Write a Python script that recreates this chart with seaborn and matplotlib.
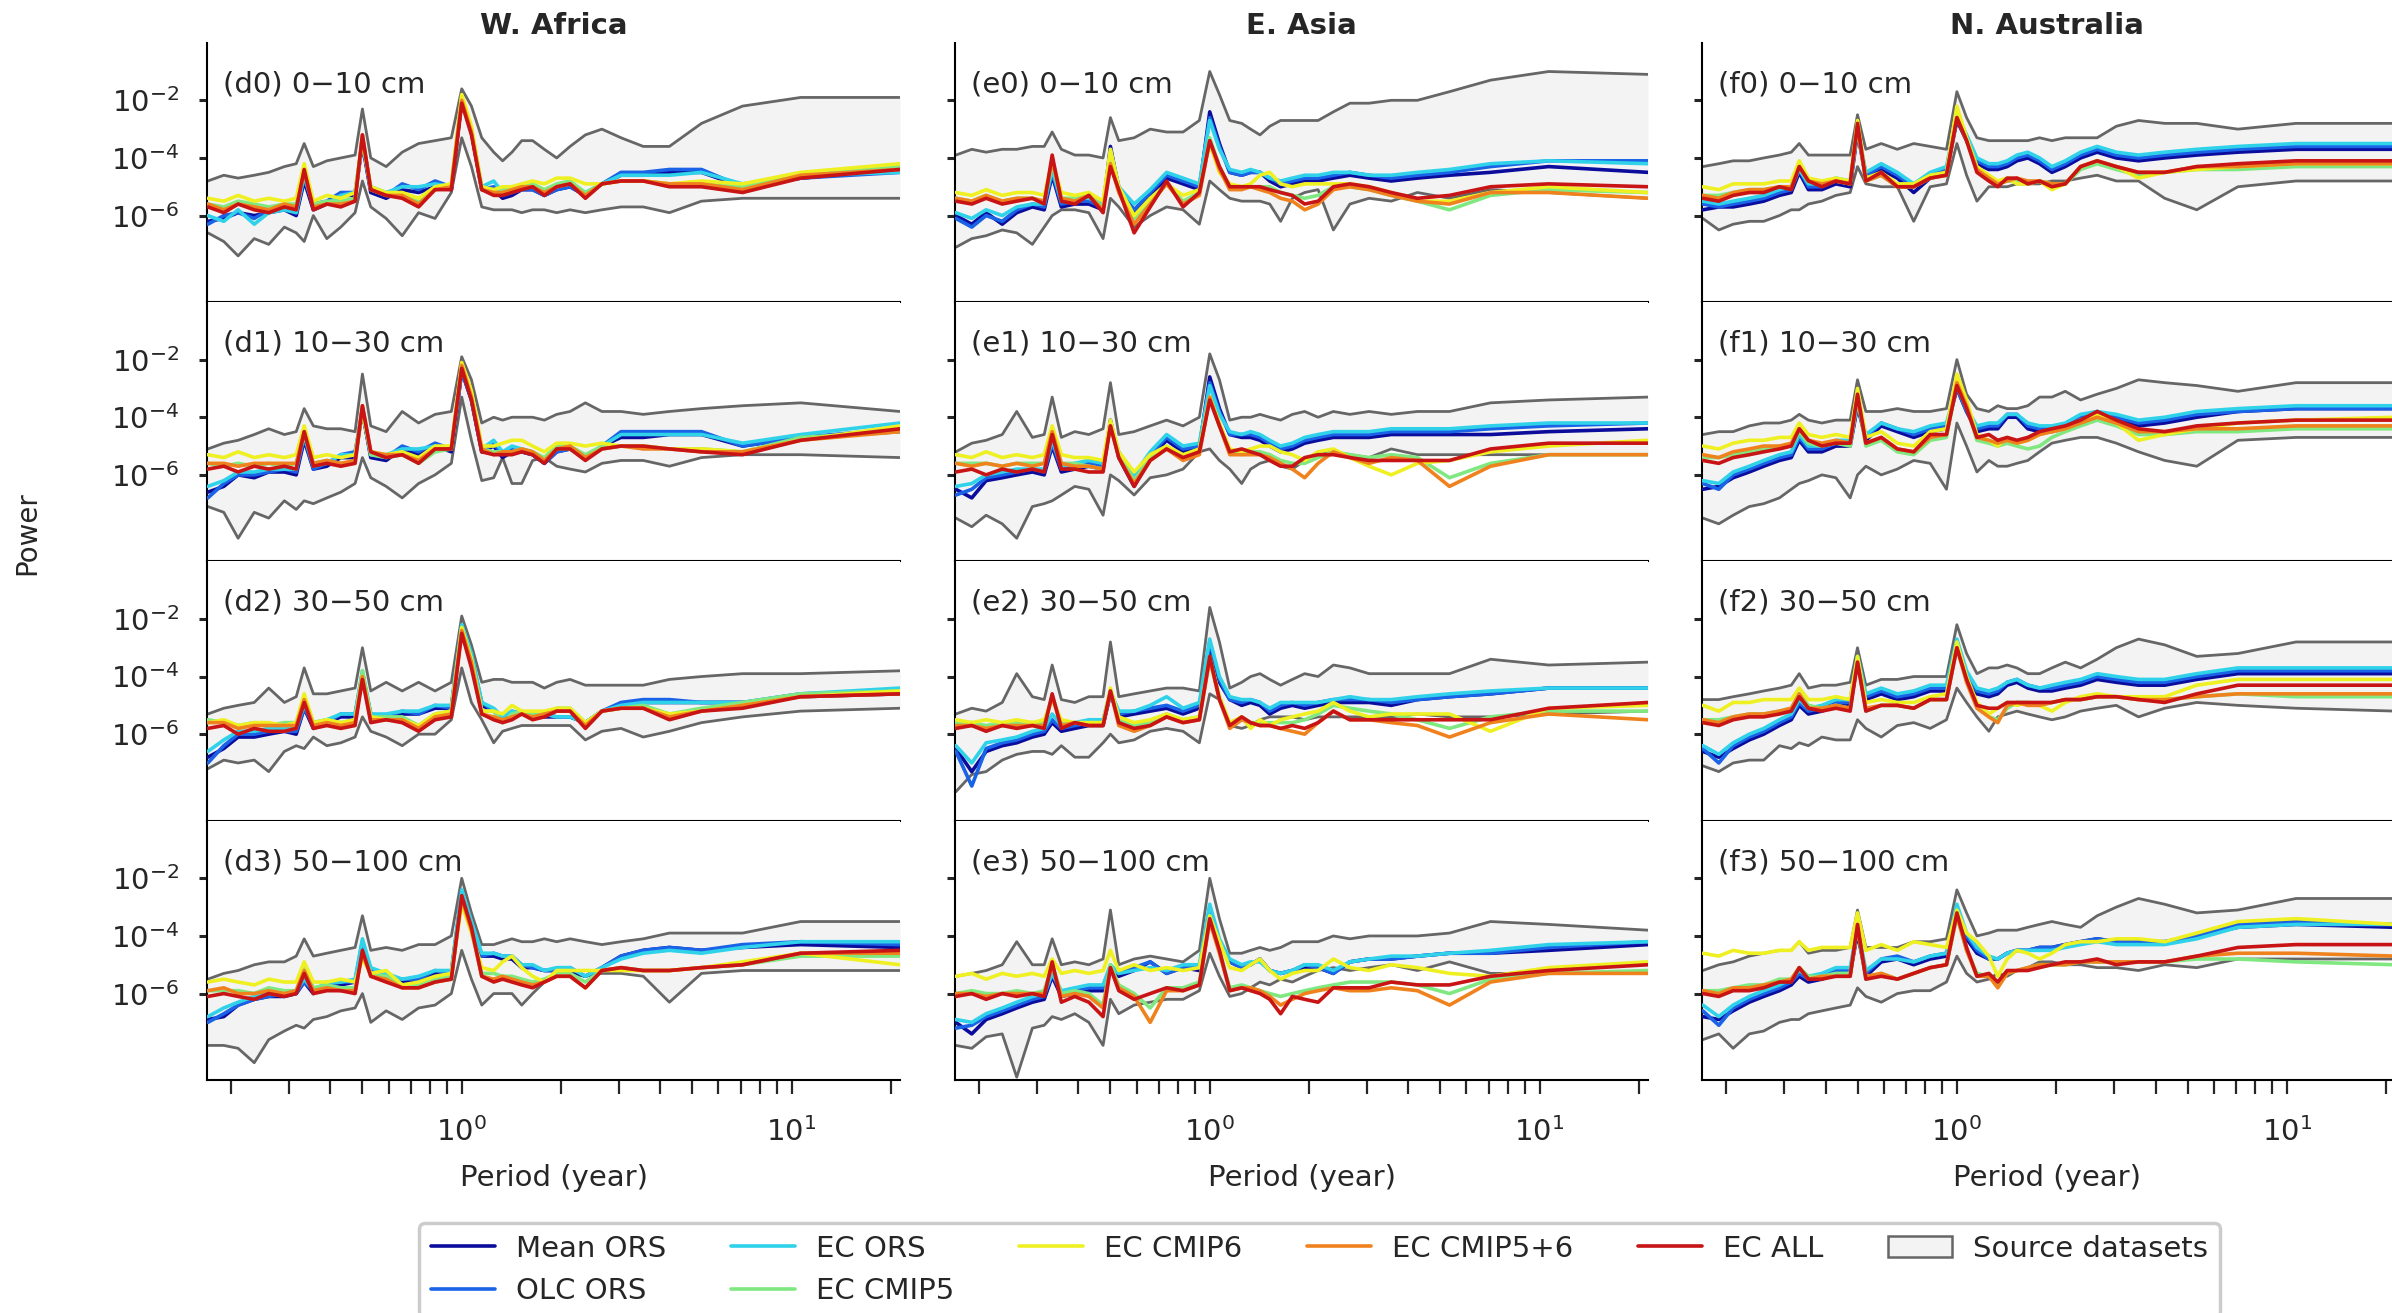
import numpy as np
import pandas as pd
import matplotlib
matplotlib.use("Agg")
import matplotlib.pyplot as plt
import seaborn as sns
from matplotlib.patches import Patch
from matplotlib.lines import Line2D
from matplotlib.ticker import NullLocator, NullFormatter, FixedLocator

# ---------------- data (log10 of power) ----------------
PERIOD = [0.17, 0.19, 0.21, 0.235, 0.26, 0.29, 0.315, 0.333, 0.355, 0.39, 0.43, 0.475, 0.5, 0.53, 0.59, 0.66, 0.74, 0.83, 0.93,
          1.0, 1.07, 1.15, 1.25, 1.33, 1.42, 1.52, 1.64, 1.78, 1.94, 2.13, 2.37, 2.66, 3.04, 3.55, 4.26, 5.33, 7.1, 10.65, 21.3]

SERIES = ["Mean ORS", "OLC ORS", "EC ORS", "EC CMIP5", "EC CMIP6", "EC CMIP5+6", "EC ALL"]
KEYS = ["MEAN", "OLC", "ECORS", "CMIP5", "CMIP6", "CMIP56", "ALL"]
COLORS = ["#0b0c9c", "#1a62e6", "#30d2ea", "#80e880", "#eef022", "#f0821e", "#c81414"]
REGIONS = ["W. Africa", "E. Asia", "N. Australia"]
LETTERS = ["d", "e", "f"]
DEPTHS = ["0\u221210 cm", "10\u221230 cm", "30\u221250 cm", "50\u2212100 cm"]

# ---- W. Africa ----
D0_UP = [-4.8,-4.6,-4.7,-4.6,-4.5,-4.3,-4.2,-3.5,-4.3,-4.1,-4.0,-3.9,-2.3,-4.0,-4.3,-3.8,-3.5,-3.4,-3.3,
         -1.6,-2.2,-3.3,-3.8,-4.1,-3.8,-3.4,-3.4,-3.7,-4.0,-3.6,-3.2,-3.0,-3.3,-3.6,-3.6,-2.8,-2.2,-1.9,-1.9]
D0_LO = [-6.6,-6.9,-7.4,-6.8,-7.0,-6.4,-6.6,-6.9,-6.0,-6.8,-6.4,-5.9,-4.8,-5.7,-6.1,-6.7,-5.9,-6.1,-5.2,
         -3.3,-4.3,-5.7,-5.8,-5.8,-5.8,-5.9,-5.8,-5.8,-5.9,-5.8,-5.9,-5.8,-5.7,-5.7,-5.9,-5.5,-5.4,-5.4,-5.4]
D0_MEAN = [-6.2,-6.1,-5.9,-6.0,-5.9,-5.8,-6.0,-4.8,-5.8,-5.6,-5.3,-5.3,-3.5,-5.2,-5.4,-5.1,-5.2,-5.0,-5.1,
           -2.0,-3.1,-5.1,-5.1,-5.4,-5.3,-5.1,-5.1,-5.3,-5.1,-5.0,-5.3,-4.9,-4.6,-4.6,-4.5,-4.5,-5.0,-4.7,-4.4]
D0_OLC = [-6.3,-6.0,-5.9,-6.1,-5.8,-5.7,-5.9,-4.7,-5.6,-5.5,-5.2,-5.2,-3.5,-5.1,-5.3,-4.9,-5.1,-4.8,-5.0,
          -2.0,-3.1,-5.1,-5.0,-5.3,-5.2,-5.1,-5.1,-5.3,-5.1,-5.0,-5.3,-4.9,-4.5,-4.5,-4.4,-4.4,-5.0,-4.7,-4.5]
D0_ECORS = [-6.0,-6.2,-5.8,-6.3,-5.9,-5.8,-5.9,-4.6,-5.7,-5.6,-5.3,-5.2,-3.4,-5.0,-5.2,-5.0,-5.0,-4.9,-5.0,
            -1.9,-3.0,-5.0,-4.8,-5.2,-5.1,-5.0,-5.0,-5.2,-5.0,-4.9,-5.2,-4.9,-4.6,-4.6,-4.6,-4.5,-4.9,-4.6,-4.5]
D0_CMIP5 = [-5.6,-5.7,-5.5,-5.6,-5.7,-5.6,-5.6,-4.4,-5.6,-5.5,-5.5,-5.4,-3.3,-5.1,-5.3,-5.3,-5.5,-5.1,-5.0,
            -1.9,-3.0,-5.1,-5.2,-5.1,-5.0,-5.0,-4.9,-5.1,-4.9,-4.8,-5.2,-4.9,-4.8,-4.8,-4.9,-4.9,-5.0,-4.6,-4.3]
D0_CMIP6 = [-5.4,-5.5,-5.3,-5.5,-5.4,-5.5,-5.4,-4.2,-5.5,-5.3,-5.4,-5.2,-3.4,-5.0,-5.2,-5.2,-5.4,-5.0,-4.9,
            -1.8,-2.9,-5.0,-5.1,-5.0,-5.0,-4.9,-4.8,-4.9,-4.7,-4.7,-4.9,-4.9,-4.8,-4.8,-4.9,-4.8,-4.9,-4.5,-4.2]
D0_CMIP56 = [-5.6,-5.8,-5.6,-5.7,-5.8,-5.6,-5.7,-4.5,-5.7,-5.6,-5.6,-5.5,-3.2,-5.1,-5.3,-5.3,-5.6,-5.1,-5.0,
             -2.0,-3.1,-5.1,-5.2,-5.2,-5.1,-5.0,-5.0,-5.2,-5.0,-4.9,-5.3,-4.9,-4.8,-4.8,-4.9,-4.9,-5.1,-4.6,-4.4]
D0_ALL = [-5.7,-5.9,-5.6,-5.8,-5.9,-5.7,-5.8,-4.4,-5.8,-5.6,-5.7,-5.5,-3.2,-5.1,-5.3,-5.4,-5.7,-5.1,-5.1,
          -2.1,-3.2,-5.1,-5.3,-5.3,-5.2,-5.1,-5.0,-5.3,-5.0,-4.9,-5.4,-4.9,-4.8,-4.8,-5.0,-5.0,-5.2,-4.7,-4.4]

D1_UP = [-5.1,-4.9,-4.8,-4.6,-4.4,-4.6,-4.5,-3.7,-4.3,-4.4,-4.4,-4.5,-2.5,-4.3,-4.5,-3.8,-4.2,-3.9,-3.8,
         -1.9,-2.7,-4.2,-4.0,-4.1,-4.0,-4.0,-4.0,-4.1,-3.9,-3.8,-3.5,-3.8,-3.8,-3.9,-3.8,-3.7,-3.6,-3.5,-3.8]
D1_LO = [-7.1,-7.3,-8.2,-7.3,-7.5,-6.9,-7.2,-6.9,-7.0,-6.8,-6.6,-6.3,-5.4,-6.1,-6.4,-6.8,-6.3,-6.0,-5.6,
         -3.3,-4.8,-6.2,-6.1,-5.4,-6.3,-6.3,-5.5,-5.4,-5.7,-5.8,-5.9,-5.6,-5.5,-5.5,-5.7,-5.4,-5.3,-5.3,-5.4]
D1_MEAN = [-6.6,-6.4,-6.0,-6.1,-5.9,-5.9,-6.0,-4.8,-5.8,-5.7,-5.4,-5.4,-3.8,-5.4,-5.5,-5.1,-5.3,-5.0,-5.2,
           -2.4,-3.4,-5.2,-5.0,-5.4,-5.2,-5.2,-5.3,-5.6,-5.2,-5.1,-5.4,-5.0,-4.7,-4.7,-4.6,-4.6,-5.0,-4.7,-4.5]
D1_OLC = [-6.8,-6.3,-6.0,-6.0,-5.9,-5.8,-5.9,-4.7,-5.8,-5.6,-5.3,-5.2,-3.8,-5.3,-5.4,-5.0,-5.2,-4.9,-5.1,
          -2.4,-3.4,-5.2,-4.9,-5.3,-5.1,-5.2,-5.3,-5.6,-5.2,-5.1,-5.4,-5.0,-4.5,-4.5,-4.5,-4.5,-5.0,-4.7,-4.4]
D1_ECORS = [-6.4,-6.2,-5.9,-5.9,-5.8,-5.8,-5.8,-4.6,-5.7,-5.6,-5.3,-5.3,-3.7,-5.3,-5.3,-5.1,-5.1,-5.0,-5.1,
            -2.3,-3.3,-5.1,-4.8,-5.2,-5.0,-5.1,-5.2,-5.5,-5.1,-5.1,-5.4,-5.0,-4.6,-4.6,-4.6,-4.6,-4.9,-4.6,-4.2]
D1_CMIP5 = [-5.6,-5.7,-5.6,-5.7,-5.6,-5.7,-5.6,-4.6,-5.6,-5.5,-5.6,-5.6,-3.7,-5.3,-5.4,-5.3,-5.6,-5.2,-5.1,
            -2.2,-3.3,-5.1,-5.2,-5.2,-5.2,-5.1,-5.2,-5.4,-5.0,-5.0,-5.3,-5.0,-5.0,-5.0,-5.1,-5.1,-5.2,-4.7,-4.5]
D1_CMIP6 = [-5.3,-5.4,-5.2,-5.4,-5.3,-5.4,-5.3,-4.3,-5.4,-5.3,-5.4,-5.3,-3.8,-5.2,-5.3,-5.2,-5.4,-5.0,-5.0,
            -2.1,-3.1,-5.0,-5.0,-4.9,-4.8,-4.8,-5.0,-5.2,-4.9,-4.9,-5.0,-4.9,-5.0,-5.0,-5.1,-5.1,-5.2,-4.8,-4.3]
D1_CMIP56 = [-5.6,-5.6,-5.7,-5.6,-5.6,-5.6,-5.6,-4.5,-5.6,-5.5,-5.6,-5.5,-3.6,-5.2,-5.3,-5.3,-5.5,-5.1,-5.1,
             -2.2,-3.3,-5.1,-5.3,-5.2,-5.2,-5.1,-5.2,-5.5,-5.1,-5.0,-5.4,-5.1,-5.0,-5.1,-5.1,-5.2,-5.2,-4.8,-4.5]
D1_ALL = [-5.8,-5.7,-5.9,-5.7,-5.8,-5.7,-5.8,-4.5,-5.7,-5.6,-5.7,-5.6,-3.6,-5.2,-5.4,-5.3,-5.6,-5.1,-5.1,
          -2.3,-3.4,-5.2,-5.3,-5.3,-5.3,-5.2,-5.3,-5.6,-5.1,-5.1,-5.5,-5.1,-5.0,-5.0,-5.1,-5.2,-5.3,-4.8,-4.4]

D2_UP = [-5.3,-5.1,-5.0,-4.9,-4.4,-4.9,-4.7,-3.7,-4.6,-4.6,-4.5,-4.4,-3.0,-4.5,-4.2,-4.5,-4.2,-4.5,-4.2,
         -1.9,-2.9,-4.2,-4.1,-4.1,-4.2,-4.2,-4.2,-4.4,-4.2,-4.1,-4.3,-4.3,-4.3,-4.3,-4.1,-4.0,-3.9,-3.9,-3.8]
D2_LO = [-7.2,-6.9,-7.0,-6.9,-7.3,-6.6,-6.4,-6.5,-6.1,-6.4,-6.3,-6.1,-5.4,-5.9,-6.1,-6.4,-6.0,-6.0,-5.5,
         -3.7,-4.9,-5.5,-6.3,-5.9,-5.8,-5.7,-5.7,-5.7,-5.7,-5.7,-6.2,-5.9,-5.8,-6.1,-5.9,-5.6,-5.4,-5.2,-5.1]
D2_MEAN = [-6.8,-6.5,-6.1,-6.1,-6.0,-5.9,-6.0,-5.1,-5.8,-5.6,-5.4,-5.4,-3.9,-5.4,-5.4,-5.3,-5.3,-5.1,-5.1,
           -2.3,-3.3,-5.0,-5.2,-5.5,-5.3,-5.3,-5.4,-5.4,-5.4,-5.4,-5.6,-5.2,-5.0,-4.9,-4.9,-4.9,-4.9,-4.7,-4.6]
D2_OLC = [-7.0,-6.4,-6.0,-6.0,-5.9,-5.9,-5.9,-5.1,-5.7,-5.6,-5.3,-5.3,-3.9,-5.3,-5.4,-5.2,-5.3,-5.0,-5.1,
          -2.3,-3.3,-4.9,-5.2,-5.5,-5.2,-5.3,-5.3,-5.3,-5.4,-5.4,-5.6,-5.2,-4.9,-4.8,-4.8,-4.9,-4.9,-4.6,-4.5]
D2_ECORS = [-6.6,-6.2,-5.9,-5.9,-5.8,-5.8,-5.8,-5.0,-5.6,-5.5,-5.3,-5.3,-3.8,-5.3,-5.3,-5.2,-5.2,-5.0,-5.0,
            -2.2,-3.2,-4.9,-5.1,-5.4,-5.2,-5.3,-5.3,-5.3,-5.4,-5.4,-5.6,-5.2,-5.0,-4.9,-4.9,-4.9,-4.9,-4.6,-4.4]
D2_CMIP5 = [-5.5,-5.6,-5.7,-5.6,-5.7,-5.6,-5.6,-4.7,-5.6,-5.5,-5.6,-5.5,-3.8,-5.4,-5.4,-5.4,-5.7,-5.3,-5.2,
            -2.3,-3.4,-5.2,-5.2,-5.6,-5.3,-5.2,-5.3,-5.3,-5.1,-5.1,-5.6,-5.2,-5.1,-5.0,-5.3,-5.1,-4.9,-4.6,-4.5]
D2_CMIP6 = [-5.6,-5.5,-5.7,-5.6,-5.6,-5.7,-5.6,-4.6,-5.6,-5.5,-5.6,-5.5,-4.0,-5.4,-5.5,-5.5,-5.7,-5.3,-5.2,
            -2.3,-3.4,-5.2,-5.2,-5.3,-5.0,-5.2,-5.2,-5.2,-5.1,-5.1,-5.6,-5.2,-5.1,-5.1,-5.3,-5.2,-5.0,-4.7,-4.5]
D2_CMIP56 = [-5.6,-5.6,-5.8,-5.7,-5.7,-5.7,-5.7,-4.8,-5.7,-5.6,-5.7,-5.6,-4.0,-5.5,-5.5,-5.5,-5.8,-5.4,-5.3,
             -2.4,-3.5,-5.3,-5.4,-5.5,-5.4,-5.3,-5.4,-5.3,-5.2,-5.2,-5.7,-5.2,-5.1,-5.1,-5.4,-5.2,-5.0,-4.7,-4.6]
D2_ALL = [-5.8,-5.7,-6.0,-5.8,-5.9,-5.9,-5.8,-4.9,-5.8,-5.7,-5.8,-5.7,-4.1,-5.6,-5.5,-5.6,-5.9,-5.5,-5.4,
          -2.5,-3.7,-5.3,-5.5,-5.6,-5.5,-5.3,-5.5,-5.4,-5.2,-5.2,-5.8,-5.2,-5.1,-5.1,-5.5,-5.2,-5.1,-4.7,-4.6]

D3_UP = [-5.5,-5.3,-5.2,-5.0,-4.9,-4.9,-4.7,-4.1,-4.7,-4.6,-4.5,-4.4,-3.3,-4.5,-4.4,-4.5,-4.3,-4.3,-4.0,
         -2.0,-3.2,-4.3,-4.3,-4.2,-4.1,-4.2,-4.2,-4.1,-4.2,-4.1,-4.2,-4.3,-4.2,-4.1,-3.9,-3.9,-3.9,-3.5,-3.5]
D3_LO = [-7.8,-7.8,-7.9,-8.4,-7.6,-7.3,-7.1,-7.2,-6.9,-6.8,-6.6,-6.5,-6.0,-7.0,-6.6,-6.9,-6.5,-6.4,-6.0,
         -4.5,-5.5,-6.4,-6.0,-6.0,-6.0,-6.4,-6.0,-5.6,-5.4,-5.3,-5.4,-5.3,-5.3,-5.4,-6.3,-5.3,-5.2,-5.2,-5.2]
D3_MEAN = [-6.9,-6.8,-6.4,-6.2,-6.1,-6.1,-6.0,-5.6,-6.0,-5.7,-5.7,-5.6,-4.2,-5.2,-5.4,-5.6,-5.5,-5.3,-5.3,
           -2.5,-3.6,-4.7,-4.7,-4.8,-4.8,-5.1,-5.1,-5.2,-5.2,-5.2,-5.4,-5.1,-4.7,-4.5,-4.4,-4.5,-4.4,-4.3,-4.4]
D3_OLC = [-7.0,-6.7,-6.4,-6.2,-6.1,-6.0,-6.0,-5.6,-5.9,-5.7,-5.6,-5.6,-4.2,-5.2,-5.4,-5.5,-5.5,-5.2,-5.3,
          -2.5,-3.6,-4.7,-4.6,-4.7,-4.7,-5.0,-5.1,-5.2,-5.2,-5.1,-5.4,-5.1,-4.7,-4.5,-4.4,-4.5,-4.3,-4.2,-4.3]
D3_ECORS = [-6.8,-6.5,-6.3,-6.1,-6.0,-6.0,-5.9,-5.5,-5.9,-5.6,-5.6,-5.5,-4.1,-5.1,-5.3,-5.5,-5.4,-5.2,-5.2,
            -2.4,-3.5,-4.6,-4.6,-4.7,-4.7,-5.0,-5.0,-5.2,-5.1,-5.1,-5.4,-5.1,-4.8,-4.6,-4.5,-4.6,-4.4,-4.2,-4.2]
D3_CMIP5 = [-5.9,-5.9,-5.9,-6.0,-5.8,-5.9,-5.9,-5.1,-5.8,-5.7,-5.8,-5.8,-4.6,-5.3,-5.4,-5.7,-5.7,-5.5,-5.4,
            -2.7,-3.8,-5.3,-5.3,-5.4,-5.4,-5.5,-5.6,-5.5,-5.3,-5.3,-5.6,-5.2,-5.1,-5.2,-5.2,-5.1,-5.0,-4.7,-4.7]
D3_CMIP6 = [-5.6,-5.5,-5.6,-5.7,-5.5,-5.6,-5.6,-4.9,-5.6,-5.6,-5.5,-5.6,-4.8,-5.3,-5.2,-5.7,-5.6,-5.4,-5.3,
            -2.9,-3.9,-5.1,-5.2,-4.9,-4.7,-5.1,-5.4,-5.6,-5.2,-5.2,-5.2,-5.2,-5.2,-5.2,-5.2,-5.1,-4.9,-4.6,-5.0]
D3_CMIP56 = [-5.9,-5.8,-6.0,-6.0,-5.9,-6.0,-5.9,-5.2,-5.9,-5.8,-5.9,-5.9,-4.6,-5.4,-5.5,-5.8,-5.8,-5.6,-5.5,
             -2.7,-3.8,-5.4,-5.5,-5.4,-5.5,-5.6,-5.7,-5.6,-5.4,-5.4,-5.8,-5.2,-5.1,-5.2,-5.2,-5.1,-5.0,-4.6,-4.6]
D3_ALL = [-6.1,-6.0,-6.1,-6.2,-6.0,-6.1,-6.0,-5.3,-6.0,-5.9,-5.9,-6.0,-4.5,-5.4,-5.6,-5.8,-5.8,-5.6,-5.5,
          -2.6,-3.7,-5.4,-5.6,-5.5,-5.6,-5.7,-5.8,-5.6,-5.4,-5.4,-5.8,-5.2,-5.1,-5.2,-5.2,-5.1,-5.0,-4.6,-4.5]

# ---- E. Asia ----
E0_UP = [-3.9,-3.7,-3.8,-3.7,-3.7,-3.6,-3.6,-3.1,-3.7,-3.9,-3.9,-4.0,-2.6,-3.4,-3.3,-3.0,-3.1,-3.1,-2.7,
         -1.0,-1.8,-2.7,-2.8,-3.0,-3.2,-2.9,-2.7,-2.7,-2.7,-2.7,-2.4,-2.1,-2.1,-2.0,-2.0,-1.7,-1.3,-1.0,-1.1]
E0_LO = [-7.1,-6.8,-6.7,-6.5,-6.6,-7.0,-6.4,-6.0,-5.8,-5.8,-5.9,-6.8,-5.4,-5.7,-6.4,-6.0,-5.7,-5.8,-6.3,
         -4.8,-5.1,-5.4,-5.5,-5.5,-5.5,-5.6,-6.2,-5.4,-5.2,-5.1,-6.5,-5.6,-5.4,-5.5,-5.2,-5.4,-5.1,-5.2,-5.4]
E0_MEAN = [-6.0,-6.3,-5.9,-6.3,-5.9,-5.7,-5.8,-4.6,-5.7,-5.6,-5.6,-5.8,-3.6,-5.1,-5.9,-5.3,-4.7,-4.9,-5.1,
           -2.4,-3.5,-4.5,-4.6,-4.5,-4.5,-4.8,-5.0,-4.9,-4.8,-4.8,-4.7,-4.6,-4.7,-4.8,-4.7,-4.6,-4.5,-4.3,-4.5]
E0_OLC = [-6.1,-6.4,-6.0,-6.2,-5.8,-5.6,-5.7,-4.5,-5.6,-5.5,-5.5,-5.7,-3.7,-5.0,-5.8,-5.2,-4.6,-4.8,-5.0,
          -2.6,-3.6,-4.5,-4.6,-4.5,-4.5,-4.7,-4.9,-4.8,-4.7,-4.7,-4.6,-4.5,-4.6,-4.7,-4.6,-4.5,-4.3,-4.1,-4.1]
E0_ECORS = [-5.9,-6.1,-5.8,-6.0,-5.7,-5.6,-5.6,-4.4,-5.5,-5.4,-5.4,-5.6,-3.8,-5.0,-5.6,-5.1,-4.5,-4.7,-4.9,
            -2.7,-3.7,-4.4,-4.5,-4.4,-4.5,-4.7,-4.8,-4.7,-4.6,-4.6,-4.5,-4.5,-4.6,-4.6,-4.5,-4.4,-4.2,-4.1,-4.2]
E0_CMIP5 = [-5.4,-5.5,-5.3,-5.5,-5.4,-5.4,-5.5,-4.2,-5.4,-5.4,-5.3,-5.7,-4.1,-5.1,-6.1,-5.5,-4.9,-5.5,-5.2,
            -3.3,-4.3,-5.0,-5.0,-5.0,-5.0,-5.0,-5.2,-5.3,-5.4,-5.3,-5.0,-5.0,-5.1,-5.3,-5.5,-5.8,-5.3,-5.1,-5.2]
E0_CMIP6 = [-5.2,-5.3,-5.1,-5.3,-5.2,-5.2,-5.3,-4.1,-5.2,-5.3,-5.2,-5.5,-3.7,-5.0,-6.0,-5.4,-4.9,-5.3,-5.1,
            -3.5,-4.5,-4.9,-5.0,-4.9,-4.6,-4.5,-4.9,-5.0,-4.9,-4.9,-4.9,-4.9,-5.0,-5.2,-5.5,-5.5,-5.2,-5.0,-5.2]
E0_CMIP56 = [-5.4,-5.5,-5.3,-5.5,-5.4,-5.4,-5.5,-4.1,-5.4,-5.5,-5.3,-5.8,-4.2,-5.2,-6.3,-5.6,-4.9,-5.6,-5.3,
             -3.4,-4.4,-5.1,-5.1,-5.0,-5.1,-5.2,-5.4,-5.5,-5.8,-5.6,-5.1,-5.0,-5.1,-5.3,-5.5,-5.6,-5.2,-5.2,-5.4]
E0_ALL = [-5.5,-5.6,-5.4,-5.6,-5.5,-5.4,-5.6,-3.9,-5.5,-5.6,-5.3,-5.9,-4.3,-5.1,-6.6,-5.7,-4.8,-5.7,-5.2,
          -3.4,-4.3,-5.0,-5.0,-5.0,-5.0,-5.1,-5.2,-5.3,-5.6,-5.5,-5.0,-4.9,-5.0,-5.2,-5.4,-5.3,-5.0,-4.9,-5.0]

E1_UP = [-5.2,-4.9,-4.8,-4.6,-3.8,-4.7,-4.6,-3.3,-4.7,-4.5,-4.6,-4.4,-2.8,-4.6,-4.5,-4.3,-4.1,-4.3,-4.0,
         -1.8,-2.7,-4.1,-4.0,-4.0,-3.9,-4.0,-4.1,-3.9,-3.8,-4.0,-3.8,-3.9,-3.8,-3.9,-3.8,-3.8,-3.5,-3.4,-3.3]
E1_LO = [-7.5,-7.8,-7.4,-7.7,-8.2,-7.1,-7.0,-6.9,-6.7,-6.4,-6.5,-7.4,-6.0,-6.2,-6.7,-6.1,-6.0,-5.8,-5.2,
         -5.1,-5.5,-5.8,-6.3,-5.8,-5.6,-5.5,-5.7,-5.8,-5.5,-5.2,-5.2,-5.3,-5.4,-5.1,-5.3,-5.3,-5.3,-5.3,-5.3]
E1_MEAN = [-6.5,-6.8,-6.2,-6.1,-6.0,-5.9,-6.0,-5.0,-5.9,-5.8,-5.7,-5.8,-4.1,-5.4,-6.4,-5.4,-4.8,-5.2,-5.1,
           -2.6,-3.7,-4.6,-4.7,-4.7,-4.8,-5.0,-5.2,-5.1,-4.9,-4.8,-4.7,-4.7,-4.7,-4.6,-4.6,-4.6,-4.6,-4.5,-4.4]
E1_OLC = [-6.7,-6.5,-6.1,-6.0,-5.9,-5.8,-5.9,-4.9,-5.8,-5.7,-5.6,-5.7,-4.2,-5.3,-6.2,-5.3,-4.7,-5.1,-5.0,
          -2.8,-3.8,-4.6,-4.6,-4.6,-4.7,-4.9,-5.1,-5.0,-4.8,-4.7,-4.6,-4.6,-4.6,-4.5,-4.5,-4.5,-4.4,-4.3,-4.2]
E1_ECORS = [-6.4,-6.3,-6.0,-5.9,-5.8,-5.8,-5.8,-4.8,-5.7,-5.6,-5.5,-5.6,-4.2,-5.2,-6.0,-5.2,-4.6,-5.0,-4.9,
            -2.9,-3.9,-4.5,-4.6,-4.5,-4.6,-4.8,-5.0,-4.9,-4.7,-4.6,-4.5,-4.5,-4.5,-4.4,-4.4,-4.4,-4.3,-4.2,-4.2]
E1_CMIP5 = [-5.6,-5.6,-5.6,-5.7,-5.6,-5.6,-5.6,-4.5,-5.6,-5.6,-5.7,-5.8,-4.2,-5.3,-6.2,-5.4,-5.0,-5.4,-5.2,
            -3.3,-4.3,-5.2,-5.3,-5.2,-5.2,-5.3,-5.5,-5.6,-5.6,-5.4,-5.2,-5.3,-5.4,-5.3,-5.4,-6.1,-5.6,-5.3,-5.3]
E1_CMIP6 = [-5.3,-5.4,-5.2,-5.4,-5.3,-5.4,-5.3,-4.3,-5.3,-5.4,-5.4,-5.5,-4.1,-5.2,-5.9,-5.3,-5.0,-5.3,-5.1,
            -3.3,-4.2,-5.1,-5.2,-5.1,-5.0,-5.0,-5.2,-5.3,-5.5,-5.2,-5.1,-5.4,-5.7,-6.0,-5.6,-5.5,-5.2,-5.0,-4.8]
E1_CMIP56 = [-5.6,-5.7,-5.6,-5.7,-5.6,-5.7,-5.6,-4.5,-5.6,-5.7,-5.7,-5.8,-4.3,-5.4,-6.3,-5.5,-5.1,-5.5,-5.3,
             -3.3,-4.3,-5.3,-5.3,-5.3,-5.3,-5.4,-5.6,-5.8,-6.1,-5.6,-5.2,-5.4,-5.6,-5.4,-5.5,-6.4,-5.7,-5.3,-5.3]
E1_ALL = [-5.9,-5.8,-6.0,-5.8,-5.9,-5.8,-5.9,-4.6,-5.8,-5.8,-5.9,-5.9,-4.3,-5.4,-6.4,-5.5,-5.1,-5.4,-5.2,
          -3.4,-4.3,-5.2,-5.1,-5.2,-5.3,-5.5,-5.7,-5.7,-5.4,-5.3,-5.3,-5.4,-5.5,-5.5,-5.5,-5.5,-5.1,-4.9,-4.9]

E2_UP = [-5.3,-5.1,-5.2,-4.9,-3.9,-4.7,-4.8,-3.6,-4.8,-4.9,-4.7,-4.7,-2.8,-4.7,-4.6,-4.5,-4.4,-4.4,-4.5,
         -1.6,-2.8,-4.4,-4.2,-4.0,-3.9,-4.1,-4.3,-4.1,-3.9,-4.0,-3.6,-3.7,-3.9,-3.9,-3.9,-3.9,-3.4,-3.6,-3.5]
E2_LO = [-8.0,-7.4,-7.3,-6.9,-6.7,-6.6,-6.6,-6.7,-6.4,-6.8,-6.8,-6.3,-6.0,-6.3,-6.2,-5.9,-5.8,-5.9,-6.3,
         -4.6,-4.8,-5.7,-5.8,-5.7,-5.5,-5.4,-5.4,-5.4,-5.5,-5.4,-5.4,-5.4,-5.4,-5.4,-5.3,-5.4,-5.4,-5.3,-5.2]
E2_MEAN = [-6.5,-7.3,-6.6,-6.4,-6.3,-6.1,-6.0,-5.6,-5.9,-5.8,-5.7,-5.7,-4.6,-5.4,-5.3,-5.2,-5.1,-5.3,-5.1,
           -3.0,-4.2,-4.8,-5.0,-4.9,-5.0,-5.3,-5.1,-5.0,-5.1,-5.0,-4.9,-4.9,-4.9,-5.0,-4.8,-4.7,-4.6,-4.4,-4.4]
E2_OLC = [-6.6,-7.8,-6.5,-6.3,-6.2,-6.0,-5.9,-5.5,-5.8,-5.7,-5.6,-5.6,-4.6,-5.3,-5.2,-5.1,-5.0,-5.2,-5.0,
          -2.8,-4.1,-4.8,-4.9,-4.8,-4.9,-5.2,-5.0,-4.9,-5.0,-4.9,-4.8,-4.8,-4.8,-4.9,-4.8,-4.7,-4.6,-4.4,-4.4]
E2_ECORS = [-6.4,-7.0,-6.3,-6.2,-6.1,-5.9,-5.8,-5.3,-5.7,-5.6,-5.5,-5.5,-4.5,-5.2,-5.2,-5.0,-4.7,-5.1,-4.9,
            -2.7,-4.0,-4.7,-4.8,-4.8,-4.9,-5.1,-4.9,-4.9,-4.9,-4.9,-4.8,-4.7,-4.8,-4.8,-4.7,-4.6,-4.5,-4.4,-4.4]
E2_CMIP5 = [-5.6,-5.6,-5.7,-5.6,-5.6,-5.6,-5.6,-4.7,-5.6,-5.6,-5.6,-5.6,-4.5,-5.5,-5.7,-5.6,-5.3,-5.5,-5.4,
            -3.3,-4.7,-5.7,-5.4,-5.6,-5.6,-5.6,-5.6,-5.6,-5.5,-5.3,-5.0,-5.1,-5.2,-5.3,-5.5,-5.8,-5.4,-5.2,-5.2]
E2_CMIP6 = [-5.5,-5.6,-5.5,-5.6,-5.5,-5.6,-5.5,-4.8,-5.5,-5.6,-5.6,-5.6,-4.4,-5.4,-5.6,-5.5,-5.3,-5.5,-5.4,
            -3.4,-4.7,-5.6,-5.4,-5.8,-5.5,-5.7,-5.5,-5.4,-5.3,-5.2,-4.9,-5.2,-5.4,-5.3,-5.3,-5.3,-5.9,-5.1,-5.0]
E2_CMIP56 = [-5.7,-5.7,-5.8,-5.7,-5.7,-5.7,-5.7,-4.7,-5.7,-5.6,-5.7,-5.7,-4.5,-5.7,-5.9,-5.7,-5.4,-5.6,-5.5,
             -3.4,-4.8,-5.8,-5.5,-5.6,-5.7,-5.7,-5.8,-5.9,-6.0,-5.6,-5.2,-5.5,-5.5,-5.6,-5.7,-6.1,-5.6,-5.3,-5.5]
E2_ALL = [-5.8,-5.7,-5.9,-5.7,-5.8,-5.7,-5.8,-4.6,-5.8,-5.6,-5.7,-5.7,-4.5,-5.6,-5.8,-5.7,-5.4,-5.6,-5.5,
          -3.3,-4.8,-5.7,-5.4,-5.6,-5.7,-5.7,-5.8,-5.7,-5.8,-5.6,-5.2,-5.5,-5.5,-5.5,-5.5,-5.5,-5.5,-5.1,-4.9]

E3_UP = [-5.4,-5.3,-5.2,-5.0,-4.2,-5.0,-5.0,-4.1,-5.0,-4.9,-5.0,-4.8,-3.1,-5.0,-4.8,-4.7,-4.8,-4.9,-4.5,
         -2.0,-3.4,-4.6,-4.6,-4.5,-4.4,-4.5,-4.4,-4.2,-4.2,-4.2,-4.0,-4.1,-4.0,-4.0,-4.0,-3.9,-3.5,-3.6,-3.8]
E3_LO = [-7.8,-7.9,-7.5,-7.4,-8.9,-7.2,-7.1,-6.8,-6.9,-6.7,-7.0,-7.8,-6.2,-6.7,-6.4,-6.3,-6.2,-6.2,-5.9,
         -4.6,-5.4,-6.1,-6.0,-5.8,-5.6,-5.7,-5.5,-5.6,-5.4,-5.2,-5.1,-5.2,-5.1,-5.0,-5.2,-4.9,-5.3,-5.3,-5.3]
E3_MEAN = [-7.0,-7.4,-6.9,-6.7,-6.5,-6.3,-6.2,-5.4,-6.1,-6.0,-5.9,-5.9,-5.1,-5.4,-5.2,-4.9,-5.3,-5.1,-5.2,
           -3.1,-4.2,-4.9,-5.1,-5.0,-4.8,-5.2,-5.3,-5.2,-5.1,-5.1,-5.3,-4.9,-4.8,-4.8,-4.7,-4.6,-4.6,-4.5,-4.3]
E3_OLC = [-7.2,-7.1,-6.8,-6.6,-6.4,-6.2,-6.1,-5.3,-6.0,-5.9,-5.8,-5.8,-5.1,-5.3,-5.1,-4.9,-5.3,-5.1,-5.1,
          -3.0,-4.2,-4.9,-5.1,-5.0,-4.8,-5.2,-5.3,-5.2,-5.0,-5.1,-5.3,-4.9,-4.8,-4.8,-4.7,-4.6,-4.6,-4.4,-4.2]
E3_ECORS = [-6.9,-7.0,-6.7,-6.5,-6.3,-6.1,-6.0,-5.3,-5.9,-5.8,-5.7,-5.7,-5.0,-5.3,-5.2,-5.1,-5.2,-5.0,-5.0,
            -2.9,-4.1,-4.8,-5.0,-4.9,-4.9,-5.2,-5.3,-5.2,-5.0,-5.0,-5.2,-4.9,-4.8,-4.7,-4.7,-4.6,-4.5,-4.3,-4.2]
E3_CMIP5 = [-6.0,-5.9,-6.0,-6.0,-5.9,-6.0,-5.9,-5.0,-6.0,-5.9,-6.0,-6.4,-5.0,-5.7,-6.0,-6.5,-5.8,-5.8,-5.6,
            -3.4,-4.5,-5.8,-5.7,-5.8,-5.9,-6.0,-6.1,-6.0,-5.9,-5.8,-5.7,-5.6,-5.6,-5.6,-5.7,-6.0,-5.5,-5.3,-5.2]
E3_CMIP6 = [-5.4,-5.3,-5.5,-5.3,-5.4,-5.3,-5.4,-4.8,-5.3,-5.2,-5.3,-5.2,-4.5,-5.2,-5.0,-5.2,-5.1,-5.2,-5.1,
            -3.3,-4.2,-5.1,-5.2,-5.0,-4.8,-5.2,-5.5,-5.3,-5.2,-5.2,-4.8,-5.1,-5.2,-5.0,-5.1,-5.3,-5.4,-5.1,-4.9]
E3_CMIP56 = [-6.0,-6.0,-6.1,-6.0,-6.0,-6.0,-6.0,-5.0,-6.1,-6.0,-6.1,-6.5,-5.1,-5.8,-6.1,-7.0,-5.9,-5.9,-5.7,
             -3.5,-4.6,-5.9,-5.8,-5.8,-5.9,-6.1,-6.4,-6.2,-6.0,-5.9,-5.8,-5.9,-5.9,-5.8,-5.9,-6.4,-5.6,-5.3,-5.3]
E3_ALL = [-6.1,-6.0,-6.2,-6.0,-6.1,-6.0,-6.1,-4.9,-6.3,-6.1,-6.3,-6.8,-5.1,-5.9,-6.2,-6.0,-5.8,-5.9,-5.7,
          -3.4,-4.5,-5.9,-5.8,-5.9,-6.0,-6.2,-6.7,-6.1,-6.2,-6.3,-5.8,-5.8,-5.8,-5.6,-5.7,-5.7,-5.4,-5.2,-5.0]

# ---- N. Australia ----
F0_UP = [-4.3,-4.2,-4.1,-4.1,-4.0,-3.9,-3.8,-3.5,-3.9,-3.9,-3.9,-3.9,-2.5,-3.7,-3.5,-3.7,-3.5,-3.6,-3.7,
         -1.7,-2.6,-3.3,-3.4,-3.4,-3.4,-3.4,-3.4,-3.3,-3.4,-3.3,-3.3,-3.3,-2.9,-2.7,-2.8,-2.8,-3.0,-2.8,-2.8]
F0_LO = [-6.1,-6.5,-6.3,-6.2,-6.2,-6.0,-5.8,-5.8,-5.6,-5.5,-5.3,-5.2,-4.3,-4.9,-5.0,-5.0,-6.2,-5.0,-4.9,
         -3.5,-4.6,-5.5,-5.0,-5.0,-5.0,-4.9,-4.9,-4.9,-4.8,-4.8,-4.7,-4.6,-4.8,-4.8,-5.4,-5.8,-5.0,-4.8,-4.8]
F0_MEAN = [-5.8,-5.7,-5.7,-5.6,-5.5,-5.3,-5.2,-4.5,-5.1,-5.1,-4.9,-5.0,-3.1,-4.7,-4.4,-4.7,-5.2,-4.7,-4.5,
           -2.7,-3.4,-4.2,-4.4,-4.4,-4.3,-4.1,-4.0,-4.2,-4.5,-4.3,-4.0,-3.8,-4.0,-4.1,-4.0,-3.9,-3.8,-3.7,-3.7]
F0_OLC = [-5.6,-5.7,-5.6,-5.5,-5.4,-5.2,-5.1,-4.4,-5.0,-5.0,-4.8,-4.9,-3.0,-4.6,-4.3,-4.6,-5.0,-4.6,-4.4,
          -2.6,-3.3,-4.1,-4.3,-4.3,-4.2,-4.0,-3.9,-4.1,-4.4,-4.2,-3.9,-3.7,-3.9,-4.0,-3.9,-3.8,-3.7,-3.6,-3.6]
F0_ECORS = [-5.5,-5.6,-5.5,-5.4,-5.3,-5.1,-5.0,-4.4,-4.9,-4.9,-4.7,-4.8,-3.0,-4.5,-4.2,-4.5,-4.9,-4.5,-4.3,
            -2.5,-3.2,-4.0,-4.2,-4.2,-4.1,-3.9,-3.8,-4.0,-4.3,-4.1,-3.8,-3.6,-3.8,-3.9,-3.8,-3.7,-3.6,-3.5,-3.5]
F0_CMIP5 = [-5.3,-5.3,-5.2,-5.1,-5.1,-5.0,-5.0,-4.3,-4.8,-4.9,-4.8,-4.9,-2.9,-4.8,-4.6,-5.0,-5.0,-4.7,-4.6,
            -2.5,-3.4,-4.4,-4.7,-4.9,-4.8,-4.8,-4.9,-4.8,-4.9,-4.9,-4.4,-4.2,-4.4,-4.6,-4.5,-4.4,-4.4,-4.3,-4.3]
F0_CMIP6 = [-5.0,-5.1,-4.9,-4.9,-4.9,-4.8,-4.8,-4.1,-4.7,-4.8,-4.7,-4.8,-2.7,-4.7,-4.5,-4.9,-4.9,-4.6,-4.5,
            -2.2,-3.3,-4.3,-4.6,-4.8,-4.7,-4.9,-4.9,-4.8,-5.1,-4.9,-4.3,-4.1,-4.3,-4.7,-4.5,-4.4,-4.3,-4.2,-4.2]
F0_CMIP56 = [-5.3,-5.4,-5.2,-5.1,-5.1,-5.0,-5.0,-4.3,-4.8,-4.9,-4.8,-4.9,-2.9,-4.8,-4.6,-5.0,-5.0,-4.7,-4.6,
             -2.6,-3.4,-4.4,-4.7,-4.9,-4.8,-4.7,-4.8,-4.8,-4.9,-4.9,-4.3,-4.1,-4.3,-4.5,-4.5,-4.3,-4.3,-4.2,-4.2]
F0_ALL = [-5.4,-5.5,-5.3,-5.2,-5.2,-5.0,-5.1,-4.3,-4.8,-5.0,-4.8,-4.9,-2.8,-4.8,-4.5,-5.0,-5.0,-4.7,-4.6,
          -2.6,-3.4,-4.5,-4.8,-5.0,-4.7,-4.7,-4.9,-4.8,-5.0,-4.9,-4.3,-4.1,-4.3,-4.5,-4.5,-4.3,-4.2,-4.1,-4.1]

F1_UP = [-4.6,-4.5,-4.5,-4.3,-4.2,-4.2,-4.1,-3.9,-4.1,-4.2,-4.1,-4.1,-2.7,-3.8,-3.8,-3.7,-3.8,-3.8,-3.7,
         -2.0,-3.2,-3.7,-3.8,-3.6,-3.7,-3.7,-3.6,-3.3,-3.3,-3.1,-3.4,-3.2,-3.0,-2.7,-2.8,-2.9,-3.1,-2.8,-2.8]
F1_LO = [-7.5,-7.7,-7.4,-7.1,-7.0,-6.8,-6.5,-6.3,-6.2,-6.0,-6.1,-6.8,-6.0,-5.7,-6.0,-5.8,-5.5,-5.6,-6.5,
         -4.2,-5.0,-5.9,-5.5,-5.7,-5.7,-5.6,-5.5,-5.2,-4.9,-4.8,-4.7,-4.7,-4.9,-5.2,-5.5,-5.7,-4.8,-4.7,-4.7]
F1_MEAN = [-6.5,-6.4,-6.1,-5.9,-5.7,-5.5,-5.4,-4.8,-5.2,-5.2,-5.0,-5.0,-3.6,-4.8,-4.3,-4.5,-4.7,-4.5,-4.4,
           -3.0,-3.8,-4.5,-4.4,-4.4,-4.0,-4.0,-4.4,-4.5,-4.5,-4.4,-4.1,-3.9,-4.1,-4.3,-4.2,-4.0,-3.8,-3.7,-3.7]
F1_OLC = [-6.3,-6.5,-6.0,-5.8,-5.6,-5.4,-5.3,-4.7,-5.1,-5.1,-4.9,-4.9,-3.6,-4.7,-4.2,-4.4,-4.6,-4.4,-4.3,
          -3.0,-3.8,-4.4,-4.3,-4.3,-3.9,-3.9,-4.3,-4.4,-4.4,-4.3,-4.0,-3.8,-4.0,-4.2,-4.1,-3.9,-3.8,-3.7,-3.7]
F1_ECORS = [-6.2,-6.3,-5.9,-5.7,-5.5,-5.3,-5.2,-4.6,-5.0,-5.0,-4.8,-4.8,-3.5,-4.6,-4.2,-4.4,-4.5,-4.3,-4.2,
            -2.9,-3.7,-4.3,-4.2,-4.2,-3.9,-3.9,-4.2,-4.3,-4.3,-4.2,-3.9,-3.8,-3.9,-4.1,-4.0,-3.8,-3.7,-3.6,-3.6]
F1_CMIP5 = [-5.4,-5.4,-5.3,-5.2,-5.1,-5.0,-5.0,-4.5,-4.9,-5.0,-4.9,-5.0,-3.3,-5.0,-4.8,-5.2,-5.3,-4.8,-4.7,
            -2.8,-3.6,-4.8,-4.9,-5.0,-4.9,-5.0,-5.1,-5.0,-4.7,-4.5,-4.3,-4.1,-4.3,-4.6,-4.6,-4.5,-4.5,-4.4,-4.4]
F1_CMIP6 = [-5.0,-5.1,-4.9,-4.8,-4.8,-4.7,-4.7,-4.2,-4.6,-4.7,-4.6,-4.7,-3.0,-4.7,-4.5,-4.9,-5.0,-4.5,-4.4,
            -2.5,-3.4,-4.6,-4.8,-5.0,-4.7,-4.9,-4.8,-4.6,-4.5,-4.4,-4.1,-3.9,-4.2,-4.8,-4.6,-4.4,-4.2,-4.1,-4.0]
F1_CMIP56 = [-5.3,-5.4,-5.2,-5.1,-5.0,-5.0,-4.9,-4.4,-4.8,-4.9,-4.8,-4.9,-3.3,-4.9,-4.7,-5.1,-5.2,-4.7,-4.6,
             -2.8,-3.6,-4.7,-4.8,-4.9,-4.8,-4.9,-4.8,-4.6,-4.5,-4.4,-4.2,-4.0,-4.2,-4.5,-4.5,-4.4,-4.4,-4.3,-4.3]
F1_ALL = [-5.5,-5.6,-5.4,-5.3,-5.2,-5.1,-5.0,-4.4,-4.8,-5.0,-4.9,-4.9,-3.2,-4.9,-4.7,-5.1,-5.2,-4.6,-4.6,
          -2.9,-3.7,-4.7,-4.6,-4.8,-4.7,-4.8,-4.7,-4.5,-4.4,-4.3,-4.1,-3.8,-4.1,-4.4,-4.5,-4.3,-4.2,-4.1,-4.1]

F2_UP = [-4.8,-4.8,-4.7,-4.6,-4.5,-4.4,-4.3,-3.9,-4.4,-4.3,-4.3,-4.2,-3.0,-4.3,-4.1,-4.1,-4.0,-4.0,-4.0,
         -2.2,-3.2,-3.9,-3.7,-3.7,-3.6,-3.7,-3.9,-3.9,-3.7,-3.5,-3.7,-3.4,-3.0,-2.7,-2.9,-3.3,-3.2,-2.8,-2.8]
F2_LO = [-7.1,-7.3,-7.0,-6.9,-6.9,-6.4,-6.5,-6.3,-6.4,-6.1,-6.2,-6.2,-5.5,-5.8,-6.1,-5.7,-5.6,-5.8,-5.5,
         -4.4,-4.9,-5.4,-5.9,-5.4,-5.3,-5.2,-5.3,-5.4,-5.5,-5.4,-5.2,-5.1,-5.0,-5.4,-5.1,-4.9,-5.0,-5.1,-5.2]
F2_MEAN = [-6.6,-6.8,-6.5,-6.2,-6.0,-5.7,-5.5,-5.0,-5.3,-5.2,-5.0,-5.0,-3.5,-4.8,-4.6,-4.8,-4.7,-4.5,-4.5,
           -2.9,-4.0,-4.6,-4.7,-4.6,-4.3,-4.2,-4.4,-4.5,-4.5,-4.4,-4.3,-4.1,-4.2,-4.3,-4.3,-4.1,-3.9,-3.9,-3.9]
F2_OLC = [-6.5,-7.0,-6.4,-6.1,-5.9,-5.6,-5.4,-4.9,-5.2,-5.1,-4.9,-4.9,-3.4,-4.7,-4.5,-4.7,-4.6,-4.4,-4.4,
          -2.8,-3.9,-4.5,-4.6,-4.5,-4.2,-4.1,-4.3,-4.4,-4.4,-4.3,-4.2,-4.0,-4.1,-4.2,-4.2,-4.0,-3.8,-3.8,-3.8]
F2_ECORS = [-6.4,-6.7,-6.3,-6.0,-5.8,-5.5,-5.3,-4.8,-5.1,-5.0,-4.8,-4.8,-3.3,-4.6,-4.4,-4.6,-4.5,-4.3,-4.3,
            -2.7,-3.8,-4.4,-4.5,-4.4,-4.2,-4.1,-4.3,-4.4,-4.3,-4.2,-4.1,-3.9,-4.0,-4.1,-4.1,-3.9,-3.7,-3.7,-3.7]
F2_CMIP5 = [-5.5,-5.5,-5.4,-5.3,-5.3,-5.2,-5.1,-4.6,-5.0,-5.1,-5.0,-5.1,-3.4,-5.2,-5.0,-5.0,-5.1,-4.8,-4.8,
            -2.9,-4.1,-5.0,-5.4,-5.5,-5.1,-4.9,-4.9,-5.0,-4.9,-4.8,-4.8,-4.7,-4.7,-4.8,-4.8,-4.7,-4.6,-4.7,-4.7]
F2_CMIP6 = [-5.0,-5.2,-4.9,-4.9,-4.8,-4.8,-4.8,-4.4,-4.8,-4.8,-4.7,-4.8,-3.3,-4.9,-4.8,-4.9,-4.9,-4.7,-4.6,
            -2.8,-4.0,-4.9,-5.3,-5.1,-4.9,-5.0,-4.9,-5.0,-5.2,-4.9,-4.7,-4.6,-4.7,-4.7,-4.7,-4.3,-4.1,-4.1,-4.1]
F2_CMIP56 = [-5.5,-5.6,-5.4,-5.3,-5.3,-5.2,-5.1,-4.6,-5.1,-5.1,-5.0,-5.1,-3.5,-5.1,-5.0,-5.0,-5.1,-4.8,-4.8,
             -3.0,-4.2,-5.1,-5.4,-5.6,-5.0,-4.9,-5.0,-5.0,-4.9,-4.8,-4.8,-4.7,-4.7,-4.8,-4.8,-4.7,-4.6,-4.6,-4.6]
F2_ALL = [-5.6,-5.7,-5.5,-5.4,-5.4,-5.3,-5.2,-4.7,-5.1,-5.2,-5.1,-5.2,-3.5,-5.2,-5.0,-5.0,-5.1,-4.8,-4.8,
          -3.0,-4.1,-5.0,-5.1,-5.1,-4.9,-4.9,-4.9,-4.9,-4.9,-4.8,-4.8,-4.7,-4.7,-4.8,-4.9,-4.6,-4.3,-4.3,-4.3]

F3_UP = [-5.2,-5.0,-4.9,-4.7,-4.6,-4.5,-4.5,-4.2,-4.6,-4.5,-4.5,-4.4,-3.1,-4.4,-4.4,-4.4,-4.2,-4.2,-4.1,
         -2.4,-3.2,-4.0,-3.9,-3.8,-3.8,-3.8,-3.7,-3.6,-3.5,-3.6,-3.7,-3.3,-3.0,-2.7,-2.9,-3.2,-3.1,-2.7,-2.7]
F3_LO = [-7.6,-7.4,-7.9,-7.4,-7.3,-7.0,-6.9,-6.9,-6.7,-6.6,-6.5,-6.4,-5.8,-6.1,-6.3,-6.0,-5.9,-5.9,-5.6,
         -4.7,-5.3,-5.6,-5.5,-5.3,-5.4,-5.2,-5.1,-4.9,-4.9,-5.0,-5.0,-5.1,-5.1,-5.2,-5.0,-5.1,-4.8,-4.8,-4.8]
F3_MEAN = [-6.8,-6.9,-6.6,-6.3,-6.1,-5.9,-5.7,-5.4,-5.6,-5.5,-5.3,-5.3,-3.9,-5.4,-4.9,-4.8,-5.0,-4.8,-4.7,
           -3.1,-4.1,-4.6,-4.8,-4.8,-4.6,-4.5,-4.5,-4.4,-4.4,-4.3,-4.2,-4.1,-4.2,-4.2,-4.2,-4.0,-3.7,-3.6,-3.7]
F3_OLC = [-6.6,-7.1,-6.5,-6.2,-6.0,-5.8,-5.6,-5.3,-5.5,-5.4,-5.2,-5.2,-3.8,-5.3,-4.8,-4.7,-4.9,-4.7,-4.6,
          -3.0,-4.0,-4.5,-4.8,-4.8,-4.6,-4.5,-4.5,-4.4,-4.4,-4.3,-4.2,-4.1,-4.2,-4.2,-4.2,-4.0,-3.6,-3.5,-3.6]
F3_ECORS = [-6.4,-6.8,-6.4,-6.1,-5.9,-5.7,-5.5,-5.2,-5.4,-5.3,-5.1,-5.1,-3.7,-5.2,-4.8,-4.8,-4.9,-4.7,-4.6,
            -2.9,-3.9,-4.4,-4.7,-4.8,-4.6,-4.5,-4.5,-4.5,-4.5,-4.4,-4.3,-4.2,-4.3,-4.3,-4.3,-4.1,-3.7,-3.6,-3.6]
F3_CMIP5 = [-5.9,-5.9,-5.8,-5.7,-5.7,-5.5,-5.5,-5.1,-5.4,-5.4,-5.3,-5.3,-3.7,-5.5,-5.3,-5.5,-5.3,-5.1,-5.0,
            -3.3,-4.5,-5.3,-5.4,-5.7,-5.3,-5.2,-5.1,-5.0,-5.0,-5.0,-4.9,-4.9,-4.9,-4.9,-4.9,-4.8,-4.8,-4.9,-5.0]
F3_CMIP6 = [-4.6,-4.7,-4.5,-4.6,-4.6,-4.5,-4.5,-4.2,-4.5,-4.4,-4.4,-4.4,-3.2,-4.5,-4.3,-4.5,-4.2,-4.3,-4.4,
            -3.1,-3.9,-4.2,-4.7,-5.4,-4.8,-4.5,-4.6,-4.8,-4.6,-4.3,-4.2,-4.2,-4.1,-4.1,-4.2,-3.9,-3.5,-3.4,-3.6]
F3_CMIP56 = [-5.9,-6.0,-5.8,-5.8,-5.7,-5.6,-5.5,-5.1,-5.5,-5.4,-5.4,-5.4,-3.7,-5.4,-5.3,-5.5,-5.3,-5.1,-5.0,
             -3.3,-4.5,-5.4,-5.4,-5.8,-5.3,-5.2,-5.1,-5.0,-5.0,-5.0,-4.9,-4.9,-4.9,-4.9,-4.9,-4.7,-4.6,-4.6,-4.7]
F3_ALL = [-6.0,-6.1,-5.9,-5.9,-5.8,-5.6,-5.6,-5.1,-5.5,-5.5,-5.4,-5.4,-3.6,-5.5,-5.4,-5.5,-5.3,-5.1,-5.0,
          -3.2,-4.4,-5.4,-5.3,-5.6,-5.2,-5.2,-5.2,-5.1,-5.0,-4.9,-4.9,-4.8,-5.0,-4.9,-4.9,-4.7,-4.4,-4.3,-4.3]

# ---------------- figure ----------------
sns.set_style("ticks")
plt.rcParams["font.family"] = ["DejaVu Sans"]
plt.rcParams["mathtext.fontset"] = "dejavusans"

W, H = 2392, 1313
fig = plt.figure(figsize=(W / 100, H / 100), dpi=100)

ROW_TOP = [42.7, 302.0, 561.3, 820.7]
ROW_H = 259.3
COL_LEFT = [207.0, 955.0, 1702.0]
COL_W = [693.0, 693.0, 690.0]
XMAX = [21.3, 21.3, 20.8]
FS = 21

bad = []
for L in LETTERS:
    for r in range(4):
        for k in KEYS + ["UP", "LO"]:
            nm = f"{L.upper()}{r}_{k}"
            if len(globals()[nm]) != len(PERIOD):
                bad.append((nm, len(globals()[nm])))
if bad:
    raise SystemExit(f"length mismatch: {bad}")

per = np.array(PERIOD)
for c, L in enumerate(LETTERS):
    for r in range(4):
        ax = fig.add_axes([COL_LEFT[c] / W, 1 - (ROW_TOP[r] + ROW_H) / H, COL_W[c] / W, ROW_H / H])
        ax.set_xscale("log")
        ax.set_yscale("log")
        pre = f"{L.upper()}{r}_"
        up = 10 ** np.array(globals()[pre + "UP"])
        lo = 10 ** np.array(globals()[pre + "LO"])
        ax.fill_between(per, lo, up, color="#f3f3f3", lw=0, zorder=1)
        for edge in (up, lo):
            sns.lineplot(x=per, y=edge, ax=ax, color="#666666", lw=2.0, estimator=None,
                         sort=False, zorder=2)
        rows = []
        for name, key in zip(SERIES, KEYS):
            vals = 10 ** np.array(globals()[pre + key])
            rows.append(pd.DataFrame({"period": per, "power": vals, "series": name}))
        df = pd.concat(rows, ignore_index=True)
        sns.lineplot(data=df, x="period", y="power", hue="series", hue_order=SERIES,
                     palette=COLORS, estimator=None, sort=False, lw=2.6, legend=False,
                     ax=ax, zorder=3)

        ax.set_xlim(0.169, XMAX[c])
        ax.set_ylim(1e-9, 1)
        ax.set_xlabel("")
        ax.set_ylabel("")
        for s in ("top", "right"):
            ax.spines[s].set_visible(False)
        for s in ("left", "bottom"):
            ax.spines[s].set_color("black")
            ax.spines[s].set_linewidth(1.5)

        ax.yaxis.set_major_locator(FixedLocator([1e-6, 1e-4, 1e-2]))
        ax.yaxis.set_minor_locator(NullLocator())
        ax.tick_params(axis="y", which="major", length=6, width=2.2, labelsize=FS, pad=14,
                       labelleft=(c == 0))
        ax.xaxis.set_major_locator(FixedLocator([1, 10]))
        ax.xaxis.set_minor_locator(FixedLocator([0.2, 0.3, 0.4, 0.5, 0.6, 0.7, 0.8, 0.9,
                                                 2, 3, 4, 5, 6, 7, 8, 9, 20]))
        ax.xaxis.set_minor_formatter(NullFormatter())
        if r == 3:
            ax.tick_params(axis="x", which="both", length=10, width=1.6, labelsize=FS, pad=17)
            ax.set_xlabel("Period (year)", fontsize=FS, labelpad=12)
        else:
            ax.tick_params(axis="x", which="both", bottom=False, labelbottom=False)
        if r == 0:
            ax.set_title(REGIONS[c], fontsize=FS, fontweight="bold", pad=6)
        ax.text(0.023, 0.84, f"({L}{r}) {DEPTHS[r]}", transform=ax.transAxes,
                fontsize=FS, va="center", ha="left", zorder=5)

fig.text(27 / W, 1 - 533 / H, "Power", rotation=90, fontsize=20, ha="center", va="center")

handles = [Line2D([0], [0], color=col, lw=2.6) for col in COLORS]
handles.append(Patch(facecolor="#f3f3f3", edgecolor="#666666", lw=1.8))
labels = SERIES + ["Source datasets"]
leg = fig.legend(handles, labels, ncol=6, loc="upper center",
                 bbox_to_anchor=(1319.5 / W, 1 - 1223 / H), fontsize=FS, frameon=True,
                 handlelength=2.2, handletextpad=0.73, columnspacing=2.2, labelspacing=0.5,
                 borderpad=0.4, borderaxespad=0.0, fancybox=True, edgecolor="#cccccc",
                 framealpha=1.0)
leg.get_frame().set_linewidth(2.5)

fig.savefig("out.png", dpi=100)
